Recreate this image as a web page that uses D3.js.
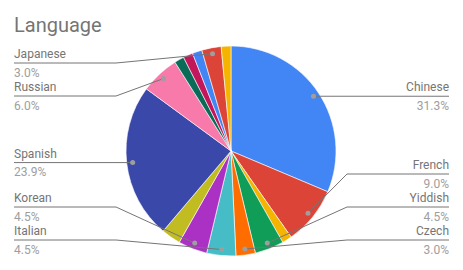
<!DOCTYPE html>
<html>
<head>
<meta charset="utf-8">
<script src="https://cdn.jsdelivr.net/npm/d3@7"></script>
<style>
  html, body { margin: 0; padding: 0; background: #fff; }
  svg { display: block; font-family: Roboto, "Noto Sans", sans-serif; }
</style>
</head>
<body>
<div id="chart"></div>
<script>
// slices in drawing order, clockwise from 12 o'clock
const languages = ['Chinese', 'French', 'Portuguese', 'Yiddish', 'Czech', 'Italian', 'Korean', 'German',
  'Spanish', 'Russian', 'Greek', 'Hindi', 'Arabic', 'Japanese', 'Polish'];
const counts = [21, 6, 1, 3, 2, 3, 3, 2, 16, 4, 1, 1, 1, 2, 1];
const labeled = ['Chinese', 'French', 'Yiddish', 'Czech', 'Italian', 'Korean', 'Spanish', 'Russian', 'Japanese'];
const colors = ['#4285f4', '#db4437', '#f4b400', '#0f9d58', '#ff6d01', '#46bdc6', '#ab30c4', '#c1bc22',
  '#3a48aa', '#f77aaa', '#0a6b58', '#c2185b', '#4285f4', '#db4437', '#f4b400'];

const width = 463, height = 270;
const cx = 231, cy = 151, r = 105;

const svg = d3.select('#chart').append('svg')
  .attr('width', width)
  .attr('height', height);

svg.append('text')
  .attr('x', 14)
  .attr('y', 32)
  .attr('font-size', 20)
  .attr('fill', '#757575')
  .text('Language');

const data = languages.map((name, i) => ({ name: name, value: counts[i], color: colors[i] }));
const total = d3.sum(counts);

const pie = d3.pie().sort(null).value(d => d.value);
const arcs = pie(data);
const arc = d3.arc().innerRadius(0).outerRadius(r);

const g = svg.append('g').attr('transform', 'translate(' + cx + ',' + cy + ')');

g.selectAll('path.slice')
  .data(arcs)
  .enter()
  .append('path')
  .attr('class', 'slice')
  .attr('d', arc)
  .attr('fill', d => d.data.color)
  .attr('stroke', '#fff')
  .attr('stroke-width', 0.6);

// label layout: dot inside the slice, line pushed to the side, overlaps resolved
const dotArc = d3.arc().innerRadius(r - 6).outerRadius(r - 6);
const labels = arcs.filter(d => labeled.includes(d.data.name)).map(d => {
  const p = dotArc.centroid(d);
  const mid = (d.startAngle + d.endAngle) / 2;
  return { d: d, dx: p[0] + cx, dy: p[1] + cy, side: mid < Math.PI ? 'right' : 'left', y: p[1] + cy };
});

const minY = 63, maxY = 240, gap = 33;
['left', 'right'].forEach(side => {
  const list = labels.filter(l => l.side === side).sort((a, b) => a.dy - b.dy);
  list.forEach(l => { l.y = Math.max(minY, Math.min(maxY, l.dy)); });
  for (let i = 1; i < list.length; i++) list[i].y = Math.max(list[i].y, list[i - 1].y + gap);
  list[list.length - 1].y = Math.min(list[list.length - 1].y, maxY);
  for (let i = list.length - 2; i >= 0; i--) list[i].y = Math.min(list[i].y, list[i + 1].y - gap);
});

const fmt = d3.format('.1f');
const lg = svg.append('g');

labels.forEach(l => {
  const left = l.side === 'left';
  const textX = left ? 14 : 449;
  const elbowX = left ? cx - r - 10 : cx + r + 11;
  const pts = left
    ? [[textX, l.y], [elbowX, l.y], [l.dx, l.dy]]
    : [[textX, l.y], [elbowX, l.y], [l.dx, l.dy]];
  lg.append('path')
    .attr('d', d3.line()(pts))
    .attr('fill', 'none')
    .attr('stroke', '#757575')
    .attr('stroke-width', 1);
  lg.append('circle')
    .attr('cx', l.dx)
    .attr('cy', l.dy)
    .attr('r', 2.5)
    .attr('fill', '#9e9e9e');
  lg.append('text')
    .attr('x', textX)
    .attr('y', l.y - 5)
    .attr('text-anchor', left ? 'start' : 'end')
    .attr('font-size', 12)
    .attr('fill', '#757575')
    .text(l.d.data.name);
  lg.append('text')
    .attr('x', textX)
    .attr('y', l.y + 13.5)
    .attr('text-anchor', left ? 'start' : 'end')
    .attr('font-size', 12)
    .attr('fill', '#9e9e9e')
    .text(fmt(l.d.data.value / total * 100) + '%');
});
</script>
</body>
</html>
